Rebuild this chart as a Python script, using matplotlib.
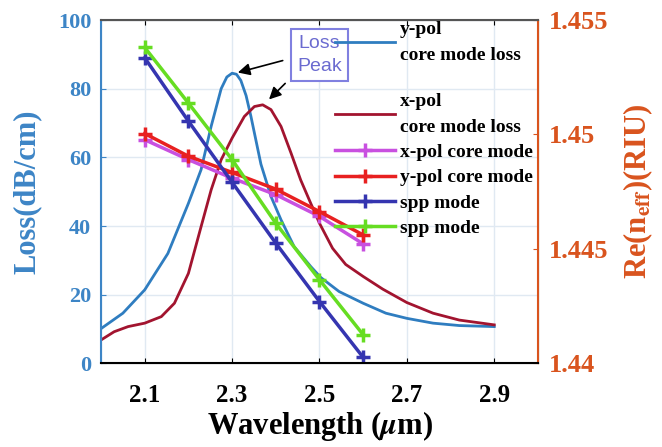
import numpy as np
import matplotlib
matplotlib.use('Agg')
import matplotlib.pyplot as plt

plt.rcParams['font.family'] = ['Liberation Serif', 'DejaVu Serif']
plt.rcParams['font.weight'] = 'bold'
plt.rcParams['mathtext.fontset'] = 'stix'

# y-pol core mode loss (left axis, dB/cm)
wl_ly = np.array([2.001, 2.05, 2.1, 2.153, 2.2, 2.229, 2.252, 2.275, 2.288, 2.3,
                  2.31, 2.32, 2.332, 2.343, 2.366, 2.389, 2.412, 2.442, 2.48,
                  2.503, 2.545, 2.6, 2.652, 2.7, 2.76, 2.82, 2.9])
loss_y = np.array([10.2, 14.6, 21.4, 32.0, 46.6, 56.4, 69.0, 80.0, 83.4, 84.5,
                   84.2, 82.4, 78.0, 72.0, 58.0, 48.6, 41.8, 34.0, 28.2,
                   25.0, 20.9, 17.5, 14.6, 13.1, 11.7, 11.0, 10.7])
# x-pol core mode loss (left axis, dB/cm)
wl_lx = np.array([2.0, 2.03, 2.062, 2.1, 2.138, 2.168, 2.2, 2.229, 2.252, 2.275,
                  2.3, 2.328, 2.351, 2.37, 2.389, 2.412, 2.435, 2.457, 2.48,
                  2.5, 2.53, 2.56, 2.6, 2.645, 2.7, 2.76, 2.82, 2.9])
loss_x = np.array([6.8, 9.2, 10.7, 11.7, 13.6, 17.5, 26.2, 39.8, 50.5, 59.3,
                   65.6, 71.9, 74.8, 75.3, 73.9, 69.0, 61.2, 53.4, 46.6,
                   40.8, 33.5, 28.8, 25.3, 21.6, 17.7, 14.6, 12.6, 11.2])

# effective indices (right axis, RIU)
wl = np.array([2.1, 2.2, 2.3, 2.4, 2.5, 2.6])
n_xpol = np.array([1.44977, 1.44890, 1.44809, 1.44737, 1.44642, 1.44522])
n_ypol = np.array([1.45004, 1.44905, 1.44834, 1.44761, 1.44663, 1.44561])
n_spp1 = np.array([1.45335, 1.45058, 1.44791, 1.44525, 1.44270, 1.44026])
n_spp2 = np.array([1.45380, 1.45137, 1.44890, 1.44612, 1.44365, 1.44125])

c_left = '#3d85c6'
c_right = '#d9541e'

fig = plt.figure(figsize=(6.62, 4.47), dpi=100)
ax = fig.add_axes([0.1526, 0.1872, 0.66, 0.768])
ax2 = ax.twinx()

l1, = ax.plot(wl_ly, loss_y, color='#2f7dc0', lw=2)
l2, = ax.plot(wl_lx, loss_x, color='#a2142f', lw=2)

mk = dict(marker='+', ms=10, mew=2.5, lw=2.5)
l3, = ax2.plot(wl, n_xpol, color='#c850e0', **mk)
l4, = ax2.plot(wl, n_ypol, color='#e82020', **mk)
l5, = ax2.plot(wl, n_spp1, color='#3535b0', **mk)
l6, = ax2.plot(wl, n_spp2, color='#66dd22', **mk)

ax.set_xlim(2.0, 3.0)
ax.set_ylim(0, 100)
ax2.set_ylim(1.44, 1.455)
ax.set_xticks([2.1, 2.3, 2.5, 2.7, 2.9])
ax.set_xticklabels(['2.1', '2.3', '2.5', '2.7', '2.9'])
ax.set_yticks([0, 20, 40, 60, 80, 100])
ax2.set_yticks([1.44, 1.445, 1.45, 1.455])
ax2.set_yticklabels(['1.44', '1.445', '1.45', '1.455'])

ax.grid(True, color='#e0e9f2', lw=1)
ax.tick_params(axis='x', direction='in', labelsize=18, colors='black', top=True, pad=15)
ax.tick_params(axis='y', direction='in', labelsize=16, colors=c_left, pad=7)
ax2.tick_params(axis='y', direction='in', labelsize=19, colors=c_right, pad=8)
for lab in ax.get_xticklabels() + ax.get_yticklabels() + ax2.get_yticklabels():
    lab.set_fontweight('bold')

ax.spines['left'].set_color(c_left)
ax2.spines['left'].set_color(c_left)
ax2.spines['right'].set_color(c_right)
ax.spines['top'].set_color('#555555')
ax2.spines['top'].set_color('#555555')
for s in ['left', 'right', 'top', 'bottom']:
    ax2.spines[s].set_linewidth(1.5)

ax.set_xlabel(r'Wavelength ($\mu$m)', fontsize=22, fontweight='bold', labelpad=1)
ax.set_ylabel('Loss(dB/cm)', fontsize=22, fontweight='bold', color=c_left, labelpad=12)
ax2.set_ylabel(r'Re(n$_{\mathbf{eff}}$)(RIU)', fontsize=22, fontweight='bold',
               color=c_right, labelpad=9)

ax.text(2.5, 89.8, 'Loss\nPeak', fontsize=14, family='Liberation Sans',
        color='#6b6bd0', ha='center', va='center', fontweight='normal',
        linespacing=1.45,
        bbox=dict(boxstyle='square,pad=0.3', fc='white', ec='#8080e0', lw=1.5))
arw = dict(arrowstyle='-|>', color='black', lw=1.2, mutation_scale=18)
ax.annotate('', xy=(2.307, 84.5), xytext=(2.422, 88.4), arrowprops=arw)
ax.annotate('', xy=(2.38, 76.3), xytext=(2.426, 82.1), arrowprops=arw)

leg_kw = dict(loc='upper left', frameon=False, fontsize=14, handlelength=3.1,
              handletextpad=0.25, labelspacing=0.4, borderpad=0, borderaxespad=0)
leg1 = fig.legend([l1], ['y-pol\ncore mode loss'],
                  bbox_to_anchor=(0.506, 0.954), **leg_kw)
leg2 = fig.legend([l2, l3, l4, l5, l6],
                  ['x-pol\ncore mode loss', 'x-pol core mode', 'y-pol core mode',
                   'spp mode', 'spp mode'],
                  bbox_to_anchor=(0.506, 0.793), **leg_kw)
for lg in (leg1, leg2):
    for t in lg.get_texts():
        t.set_fontweight('bold')
        t.set_linespacing(1.7)

fig.savefig('out.png', dpi=100)
